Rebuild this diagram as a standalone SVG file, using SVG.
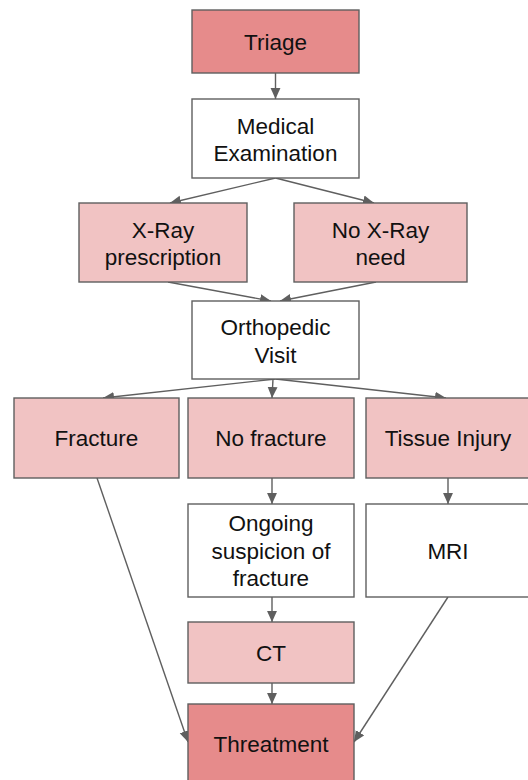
<svg xmlns="http://www.w3.org/2000/svg" width="528" height="780" viewBox="0 0 528 780">
  <style>
    .box { stroke: #5f5f5f; stroke-width: 1.4; }
    .strong { fill: #e68b8b; }
    .soft { fill: #f1c3c3; }
    .plain { fill: #ffffff; }
    text { font-family: "Liberation Sans", Arial, sans-serif; font-size: 22.5px; fill: #111111; text-anchor: middle; }
    .edge { fill: none; stroke: #5f5f5f; stroke-width: 1.4; marker-end: url(#arrow); }
  </style>
  <defs>
    <marker id="arrow" viewBox="0 0 10 10" refX="10" refY="5" markerWidth="11" markerHeight="11" markerUnits="userSpaceOnUse" orient="auto">
      <path d="M0,0.5 L10,5 L0,9.5 Z" fill="#5f5f5f"/>
    </marker>
  </defs>
  <rect width="528" height="780" fill="#ffffff"/>

  <g id="connectors">
    <line class="edge" x1="275.5" y1="73" x2="275.5" y2="99"/>
    <line class="edge" x1="275.5" y1="178" x2="170" y2="203"/>
    <line class="edge" x1="275.5" y1="178" x2="374" y2="203"/>
    <line class="edge" x1="168" y1="282" x2="271" y2="301"/>
    <line class="edge" x1="376" y1="282" x2="280" y2="301"/>
    <line class="edge" x1="275.5" y1="379" x2="103" y2="398"/>
    <line class="edge" x1="273" y1="379" x2="272" y2="398"/>
    <line class="edge" x1="275.5" y1="379" x2="446" y2="398"/>
    <line class="edge" x1="272" y1="478" x2="272" y2="504"/>
    <line class="edge" x1="448" y1="478" x2="448" y2="504"/>
    <line class="edge" x1="272" y1="597" x2="272" y2="622"/>
    <line class="edge" x1="272" y1="683" x2="272" y2="704"/>
    <line class="edge" x1="97" y1="478" x2="188" y2="742"/>
    <line class="edge" x1="448" y1="597" x2="354" y2="742"/>
  </g>

  <g id="triage">
    <rect class="box strong" x="192" y="10" width="167" height="63"/>
    <text x="275.5" y="50">Triage</text>
  </g>
  <g id="medical-examination">
    <rect class="box plain" x="192" y="99" width="167" height="79"/>
    <text x="275.5" y="133.5">Medical</text>
    <text x="275.5" y="161">Examination</text>
  </g>
  <g id="xray-prescription">
    <rect class="box soft" x="79" y="203" width="168" height="79"/>
    <text x="163" y="237.5">X-Ray</text>
    <text x="163" y="265">prescription</text>
  </g>
  <g id="no-xray-need">
    <rect class="box soft" x="294" y="203" width="173" height="79"/>
    <text x="380.5" y="237.5">No X-Ray</text>
    <text x="380.5" y="265">need</text>
  </g>
  <g id="orthopedic-visit">
    <rect class="box plain" x="192" y="301" width="167" height="78"/>
    <text x="275.5" y="335">Orthopedic</text>
    <text x="275.5" y="362.5">Visit</text>
  </g>
  <g id="fracture">
    <rect class="box soft" x="14" y="398" width="165" height="80"/>
    <text x="96.5" y="446">Fracture</text>
  </g>
  <g id="no-fracture">
    <rect class="box soft" x="188" y="398" width="166" height="80"/>
    <text x="271" y="446">No fracture</text>
  </g>
  <g id="tissue-injury">
    <rect class="box soft" x="366" y="398" width="166" height="80"/>
    <text x="448" y="446">Tissue Injury</text>
  </g>
  <g id="ongoing-suspicion">
    <rect class="box plain" x="188" y="504" width="166" height="93"/>
    <text x="271" y="531">Ongoing</text>
    <text x="271" y="558.5">suspicion of</text>
    <text x="271" y="586">fracture</text>
  </g>
  <g id="mri">
    <rect class="box plain" x="366" y="504" width="166" height="93"/>
    <text x="448" y="559">MRI</text>
  </g>
  <g id="ct">
    <rect class="box soft" x="188" y="622" width="166" height="61"/>
    <text x="271" y="661">CT</text>
  </g>
  <g id="treatment">
    <rect class="box strong" x="188" y="704" width="166" height="82"/>
    <text x="271" y="752">Threatment</text>
  </g>
</svg>
